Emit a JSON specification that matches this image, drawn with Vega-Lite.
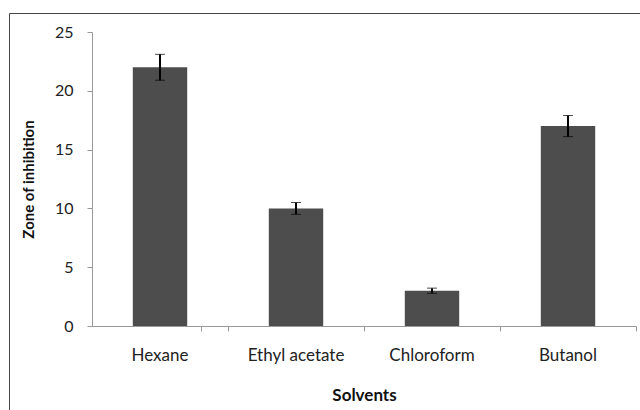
{
  "$schema": "https://vega.github.io/schema/vega-lite/v6.json",
  "width": 631,
  "height": 397,
  "autosize": {"type": "none"},
  "padding": {"left": 9, "top": 13, "right": 0, "bottom": 0},
  "background": "white",
  "config": {
    "view": {"stroke": "#444", "strokeWidth": 1},
    "font": "Lato"
  },
  "data": {
    "values": [
      {"solvent": "Hexane", "zone": 22, "err": 1.1},
      {"solvent": "Ethyl acetate", "zone": 10, "err": 0.5},
      {"solvent": "Chloroform", "zone": 3, "err": 0.22},
      {"solvent": "Butanol", "zone": 17, "err": 0.9}
    ]
  },
  "resolve": {"axis": {"x": "independent"}},
  "layer": [
    {
      "mark": {"type": "bar", "color": "#4d4d4d"},
      "encoding": {
        "x": {
          "field": "solvent",
          "type": "nominal",
          "sort": null,
          "scale": {"type": "band", "range": [83, 627], "paddingInner": 0.6, "paddingOuter": 0.3},
          "axis": {
            "orient": "bottom",
            "title": "Solvents",
            "titleFont": "Lato",
            "titleFontSize": 17,
            "titleFontWeight": "bold",
            "titleColor": "#111",
            "titlePadding": 24,
            "labelAngle": 0,
            "labelFont": "Lato",
            "labelFontSize": 17,
            "labelColor": "#222",
            "labelPadding": 21,
            "ticks": false,
            "domainColor": "#999",
            "offset": -84,
            "grid": false
          }
        },
        "y": {
          "field": "zone",
          "type": "quantitative",
          "title": "Zone of inhibition",
          "scale": {"domain": [0, 25], "range": [313, 19], "nice": false, "zero": true},
          "axis": {
            "titleFont": "Lato",
            "titleFontSize": 15,
            "titleFontWeight": "bold",
            "titleColor": "#111",
            "titlePadding": 18,
            "values": [0, 5, 10, 15, 20, 25],
            "labelFont": "Lato",
            "labelFontSize": 16,
            "labelColor": "#222",
            "labelPadding": 14,
            "tickSize": 5,
            "tickColor": "#999",
            "domainColor": "#999",
            "offset": -83,
            "grid": false
          }
        }
      }
    },
    {
      "mark": {
        "type": "errorbar",
        "ticks": {"size": 10, "color": "black", "strokeWidth": 2},
        "rule": {"color": "black", "strokeWidth": 2}
      },
      "encoding": {
        "x": {
          "field": "solvent",
          "type": "nominal",
          "sort": null,
          "axis": {
            "orient": "bottom",
            "title": null,
            "labels": false,
            "domain": false,
            "ticks": true,
            "tickOffset": 68,
            "tickExtra": true,
            "tickSize": 5,
            "tickColor": "#999",
            "tickWidth": 1,
            "offset": -84,
            "grid": false
          }
        },
        "y": {"field": "zone", "type": "quantitative", "title": "Zone of inhibition"},
        "yError": {"field": "err"}
      }
    }
  ]
}
